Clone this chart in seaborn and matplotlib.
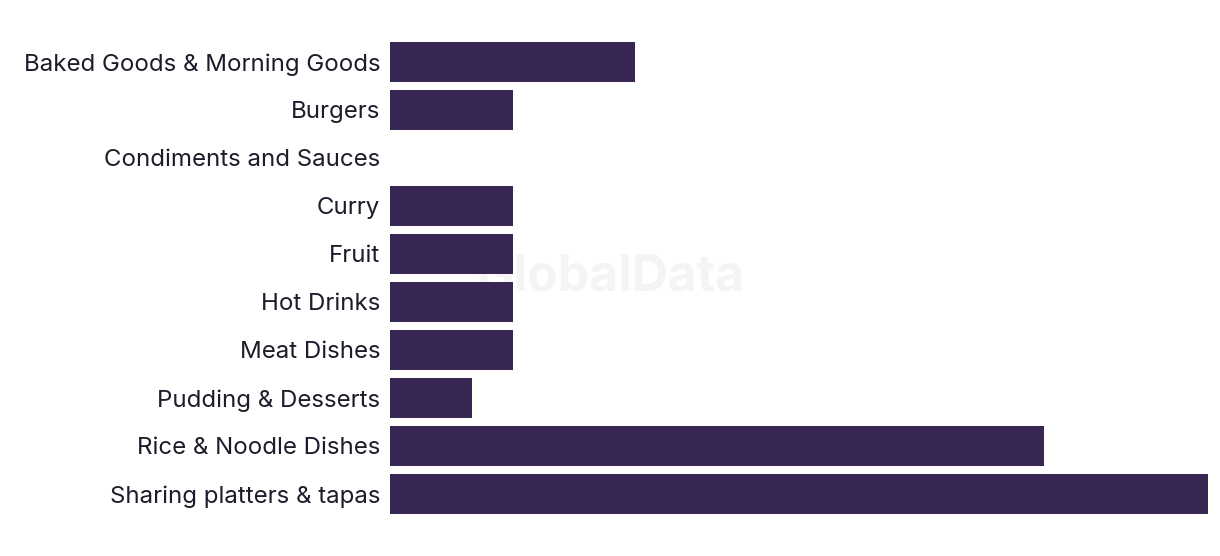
import matplotlib
matplotlib.use("Agg")
import matplotlib.pyplot as plt
import seaborn as sns
import pandas as pd

categories = ["Baked Goods & Morning Goods", "Burgers", "Condiments and Sauces", "Curry",
              "Fruit", "Hot Drinks", "Meat Dishes", "Pudding & Desserts",
              "Rice & Noodle Dishes", "Sharing platters & tapas"]
values = [6, 3, 0, 3, 3, 3, 3, 2, 16, 20]

sns.set_theme(style="white")
plt.rcParams['font.family'] = ['Inter', 'DejaVu Sans']

df = pd.DataFrame({"category": categories, "value": values})

fig = plt.figure(figsize=(12.2, 5.56), dpi=100)
fig.text(611/1220, 1 - 278/556, "GlobalData", ha="center", va="center",
         fontsize=36, fontweight="bold", color="#f4f4f4", zorder=-5)
ax = fig.add_axes([390/1220, 1 - 518/556, 818/1220, 480/556])
ax.patch.set_alpha(0)
sns.barplot(data=df, x="value", y="category", color="#372552", saturation=1,
            width=0.82, linewidth=0, ax=ax, zorder=2)
ax.set_xlim(0, 20)
ax.set_ylim(9.5, -0.5)
ax.set_xlabel("")
ax.set_ylabel("")
ax.set_xticks([])
for s in ax.spines.values():
    s.set_visible(False)
ax.tick_params(axis="y", length=0, pad=7, labelsize=17.3, labelcolor="#1c1c2a")
fig.savefig("out.png", dpi=100)
